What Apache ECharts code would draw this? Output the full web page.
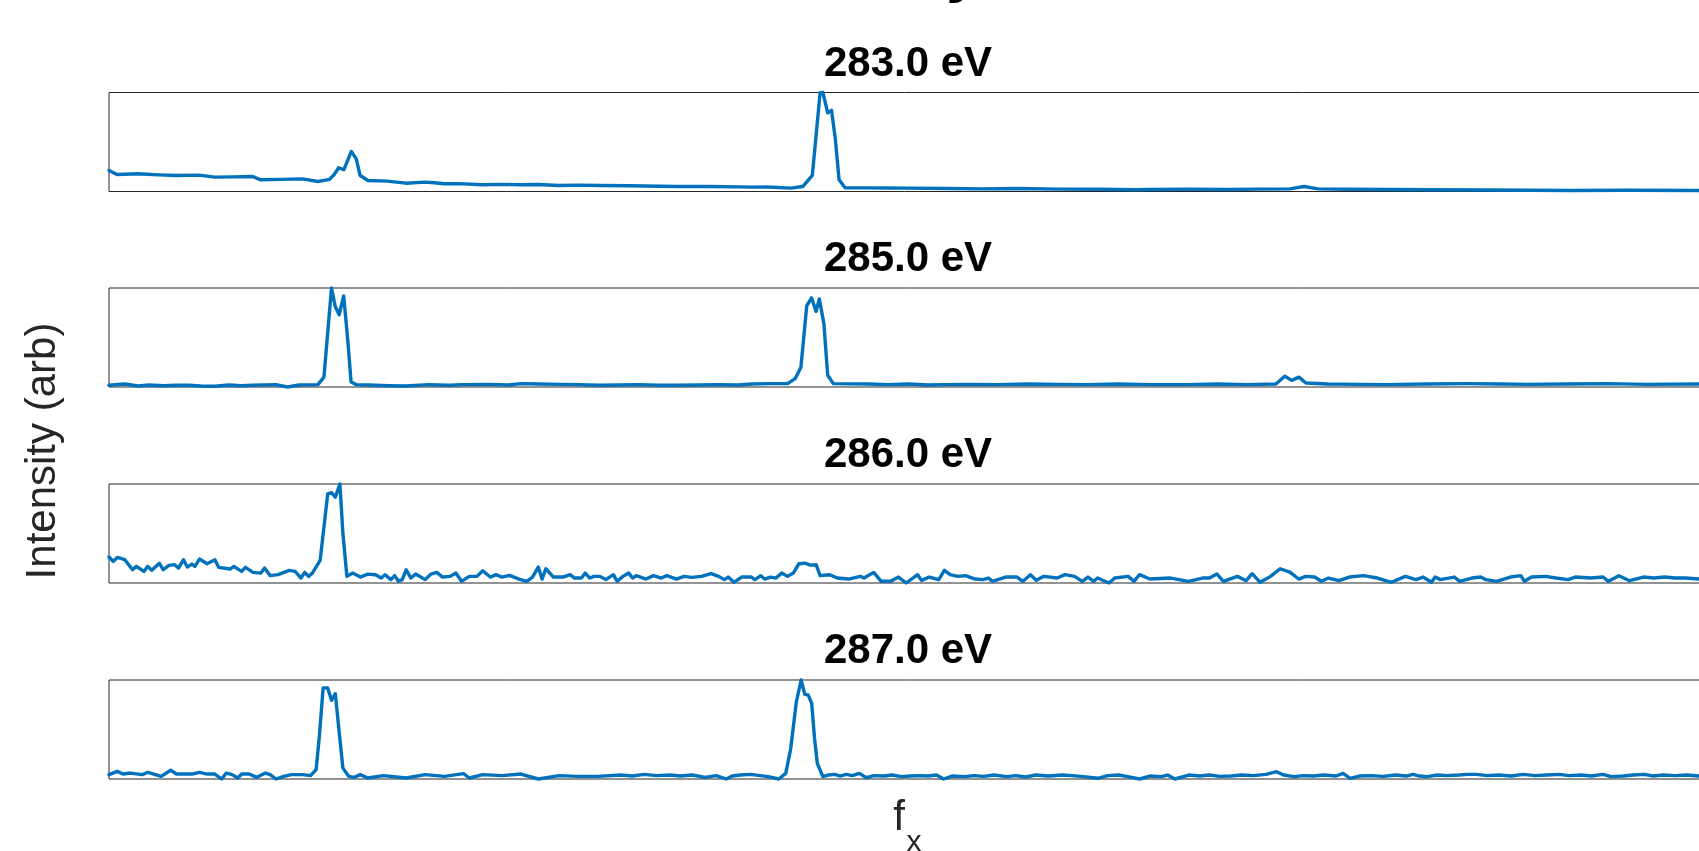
<!DOCTYPE html>
<html><head><meta charset="utf-8">
<script src="https://cdn.jsdelivr.net/npm/echarts@6/dist/echarts.min.js"></script>
<style>html,body{margin:0;padding:0;background:#fff}#c{width:1699px;height:851px}</style>
</head><body><div id="c"></div><script>
// Panel titles (photon energy)
const panelTitles = ['283.0 eV', '285.0 eV', '286.0 eV', '287.0 eV'];
const yAxisLabel = 'Intensity (arb)';
const xAxisLabelMain = 'f';
const xAxisLabelSub = 'x';
const topTitleVisible = 'y';

// f_x sample positions and normalized intensities
const x283 = [0,4,14.5,25,33.8,45,52.9,62,72,75.9,86,96.9,104.6,110.4,112.7,115,117.6,121.3,123.8,125.7,129.7,139.2,148.6,158.1,163,167.6,175,187,196,206.3,215,225.3,235,245.8,260,284,300,315,322.4,330,341.4,347.3,352.1,356,357.4,359.8,361.7,363.6,365.5,368.5,380,390,399,420,437.4,455,475.6,495,514,521.1,540,560,575,591.2,598.3,605.2,620,640,661.3,690,731.4,760,796];
const y283 = [0.213,0.172,0.179,0.168,0.162,0.165,0.145,0.148,0.152,0.118,0.122,0.128,0.101,0.122,0.17,0.24,0.22,0.405,0.33,0.162,0.111,0.105,0.084,0.095,0.088,0.078,0.08,0.068,0.072,0.068,0.07,0.061,0.064,0.061,0.058,0.05,0.05,0.047,0.044,0.045,0.034,0.05,0.162,0.997,1.0,0.794,0.82,0.534,0.118,0.037,0.037,0.036,0.034,0.03,0.027,0.03,0.024,0.022,0.017,0.02,0.022,0.02,0.024,0.027,0.05,0.027,0.022,0.02,0.017,0.015,0.01,0.012,0.01];

const x285 = [0,8,14.7,20,27,33.8,40,46,53,60,66,72,83.6,89.4,95.1,104.6,107.6,111.4,113.3,115.2,117.5,119.6,121.2,123.8,130,140,148.6,160,170,177.5,190,200,206.3,215,225.3,235,245.8,255,265,275,284,295,305,315,322,330.1,339.7,343.5,346.4,349.3,351.7,354,355.6,357.9,359.8,362.6,380,390,400,410,418.2,430,445,460,475.6,490,505,521.1,540,555,570,584.2,588.6,592.1,595.7,599.2,610,626.3,640,660,680,696.4,710,730,750,770,796];
const y285 = [0.017,0.03,0.01,0.02,0.013,0.017,0.017,0.01,0.007,0.02,0.013,0.017,0.024,0.0,0.02,0.024,0.10,1.0,0.81,0.73,0.92,0.455,0.05,0.024,0.02,0.013,0.01,0.024,0.017,0.024,0.027,0.02,0.034,0.03,0.027,0.024,0.017,0.02,0.024,0.017,0.017,0.02,0.024,0.02,0.03,0.034,0.034,0.084,0.20,0.82,0.90,0.764,0.89,0.64,0.118,0.034,0.03,0.024,0.03,0.02,0.024,0.027,0.024,0.03,0.027,0.024,0.03,0.024,0.024,0.03,0.024,0.03,0.108,0.067,0.10,0.04,0.03,0.027,0.024,0.03,0.034,0.03,0.027,0.03,0.034,0.027,0.03];

const x286 = [0,2.2,4.1,7.9,11.8,13.7,17.5,19.4,21.4,25.2,27.1,30,32.8,34.8,37.3,39.2,41.5,43,45.3,49.1,53,54.9,60.6,62.5,66.4,68.3,72.1,76,77.9,80.7,84.6,90.3,93.2,96.1,98,99.9,101.8,105.7,109.5,111.4,113.3,115.6,117.1,119.1,122,125.8,129.6,133.4,136.3,138.2,141.1,143,144.9,146.8,148.8,151.1,153.5,158.3,161.2,164.1,167,170.8,173.7,176.5,180.4,184.2,187.1,190.9,193.8,196.7,200.5,205.3,209.1,212,214.9,216.8,218.7,222.5,227.3,230.8,233.1,236.5,238.4,240.7,242.7,
  245.8,248.7,252.5,254.4,257.3,260.2,262.1,264,268.8,272.6,276.5,279.3,284.1,287.9,291.8,296.6,301.4,305.2,308.1,310,312.9,316.7,321.5,323.4,326.3,328.2,331.1,333.9,336.8,339.7,342.6,345.4,348.3,351.2,354,356,360.8,364.6,370.3,376.1,378,382.8,386.6,391.4,395.2,399.1,404.8,406.7,410.6,415.4,418.2,421.1,424.9,428.8,433.6,437.4,440.3,442.2,448.9,454.6,457.5,461.3,464.2,468,474.7,478.6,483.4,487.2,490.1,493,494.9,500.6,503.5,510.2,513.1,515.9,
  521.1,531.6,540.4,547.4,550.9,554.7,557.9,564.9,569.3,572.3,576.3,581.5,586.3,591.2,595.6,599.1,603.5,607,610.5,615.7,621,628,635,642,649,654.3,657.8,662.1,663.9,666.5,673.5,676.2,682.3,686.7,689.3,694.6,701.6,706.8,708.6,712.1,719.1,724.4,730.5,734,741.9,748,750.6,755.9,761.2,768.2,773.4,778.7,783.9,789.2,795.9];
const y286 = [0.262,0.218,0.258,0.235,0.134,0.168,0.117,0.168,0.128,0.20,0.134,0.178,0.185,0.151,0.235,0.161,0.191,0.168,0.242,0.195,0.235,0.158,0.141,0.168,0.117,0.158,0.107,0.10,0.151,0.074,0.084,0.128,0.117,0.05,0.107,0.067,0.10,0.228,0.90,0.913,0.866,1.0,0.50,0.067,0.10,0.06,0.09,0.084,0.05,0.084,0.034,0.074,0.017,0.034,0.134,0.05,0.09,0.034,0.09,0.107,0.06,0.067,0.10,0.017,0.067,0.067,0.124,0.06,0.084,0.06,0.077,0.04,0.017,0.06,0.161,0.04,0.144,0.06,0.06,0.084,0.05,0.05,0.10,0.05,0.067,
  0.067,0.034,0.084,0.017,0.067,0.10,0.05,0.074,0.04,0.074,0.05,0.074,0.04,0.067,0.057,0.067,0.094,0.067,0.034,0.06,0.007,0.06,0.06,0.034,0.074,0.04,0.06,0.05,0.10,0.067,0.10,0.195,0.20,0.181,0.185,0.074,0.084,0.05,0.04,0.067,0.05,0.107,0.017,0.017,0.06,0.0,0.084,0.027,0.06,0.034,0.128,0.084,0.067,0.074,0.04,0.034,0.05,0.017,0.06,0.06,0.017,0.084,0.027,0.067,0.05,0.084,0.067,0.017,0.06,0.017,0.05,0.0,0.05,0.067,0.017,0.084,
  0.04,0.05,0.017,0.05,0.05,0.09,0.017,0.067,0.023,0.094,0.007,0.067,0.144,0.11,0.04,0.067,0.06,0.017,0.05,0.023,0.06,0.074,0.05,0.007,0.067,0.034,0.06,0.007,0.06,0.034,0.06,0.017,0.05,0.06,0.034,0.017,0.06,0.074,0.017,0.06,0.067,0.05,0.034,0.06,0.05,0.06,0.017,0.074,0.023,0.06,0.05,0.06,0.05,0.05,0.04];

const x287 = [0,4.1,7,10.8,16.6,19.4,23.3,26.1,30.9,33.8,41.5,45.3,49.1,53,56.4,58.7,61.6,64.5,66.4,70.2,74,78.3,80.7,83.6,87.5,91.3,97,100.9,103.7,105.3,107.2,109.5,111.4,113.3,115.2,117.1,120,122.9,125.8,129.6,137.3,148.8,158.3,167.9,177.5,180.4,187.1,196.7,206.2,214.9,225.4,235,244.6,
  256.3,262,268,274,280.9,286,292,298.4,304,309,312,316,321,326,330,335.3,338.8,341.3,344.1,346.5,348.3,350,351.8,353.2,354.6,357.4,360,363.4,366,369,372.1,375.6,379.2,383,388,392,396.7,401,406,410,414.3,417.8,422,428.3,433,438,443,449.3,454,459,464,470,477.4,482,488,495,500,505.5,510,516,521,526.6,530,533.6,540.6,546,551,556,561.6,567,573,579.2,584.5,588,593.2,598,603,608,614.3,617.8,621.3,626,632,638,644,649.4,652.9,656,659.9,665,670,676,680,684.5,690,696,702,708,714,720,726,731,737.1,742,748,752,758.2,763,768.7,773,778,784,790,796];
const y287 = [0.044,0.077,0.05,0.06,0.044,0.067,0.044,0.027,0.088,0.05,0.05,0.067,0.05,0.05,0.0,0.06,0.044,0.01,0.05,0.05,0.017,0.06,0.044,0.0,0.027,0.044,0.044,0.034,0.094,0.43,0.92,0.92,0.795,0.862,0.48,0.11,0.027,0.017,0.044,0.01,0.034,0.01,0.044,0.027,0.054,0.01,0.044,0.034,0.05,0.0,0.034,0.027,0.027,
  0.04,0.03,0.047,0.034,0.04,0.03,0.04,0.017,0.034,0.0,0.03,0.04,0.047,0.034,0.024,0.0,0.057,0.31,0.78,1.0,0.855,0.85,0.764,0.41,0.158,0.024,0.04,0.047,0.03,0.047,0.034,0.057,0.013,0.034,0.03,0.04,0.024,0.03,0.034,0.03,0.04,0.0,0.03,0.024,0.034,0.027,0.04,0.024,0.034,0.02,0.04,0.03,0.04,0.034,0.024,0.007,0.034,0.04,0.024,0.0,0.03,0.024,0.04,0.0,0.04,0.03,0.04,0.027,0.03,0.04,0.034,0.047,0.074,0.04,0.024,0.034,0.03,0.04,0.03,0.057,0.007,0.03,0.034,0.027,0.04,0.03,0.047,0.03,0.024,0.04,0.034,0.04,0.047,0.047,0.034,0.04,0.03,0.047,0.034,0.04,0.047,0.034,0.04,0.03,0.047,0.024,0.03,0.04,0.047,0.03,0.04,0.034,0.04,0.03];

const panels = [
  { title: panelTitles[0], x: x283, y: y283 },
  { title: panelTitles[1], x: x285, y: y285 },
  { title: panelTitles[2], x: x286, y: y286 },
  { title: panelTitles[3], x: x287, y: y287 }
];

const FONT = '"Liberation Sans", Arial, Helvetica, sans-serif';
const gridLeft = 109, gridWidth = 1598, gridHeight = 99;
const gridTops = [92.5, 288, 484, 680];
const lineColor = '#0072BD';

const chart = echarts.init(document.getElementById('c'), null, { renderer: 'canvas' });

const graphics = [];
panels.forEach((p, i) => {
  graphics.push({
    type: 'text', x: gridLeft + gridWidth / 2, y: gridTops[i] - 28.5, z: 10,
    style: { text: p.title, font: 'bold 42px ' + FONT, fill: '#000',
      align: 'center', verticalAlign: 'middle', textAlign: 'center', textVerticalAlign: 'middle' }
  });
});
graphics.push({
  type: 'text', x: 43, y: 451, rotation: Math.PI / 2, z: 10,
  style: { text: yAxisLabel, font: '42px ' + FONT, fill: '#262626',
    align: 'center', verticalAlign: 'middle', textAlign: 'center', textVerticalAlign: 'middle' }
});
graphics.push({
  type: 'text', x: 899, y: 818, z: 10,
  style: { text: xAxisLabelMain, font: '42px ' + FONT, fill: '#262626',
    align: 'center', verticalAlign: 'middle', textAlign: 'center', textVerticalAlign: 'middle' }
});
graphics.push({
  type: 'text', x: 914, y: 843, z: 10,
  style: { text: xAxisLabelSub, font: '30px ' + FONT, fill: '#262626',
    align: 'center', verticalAlign: 'middle', textAlign: 'center', textVerticalAlign: 'middle' }
});
graphics.push({
  type: 'text', x: 963, y: -26, z: 10,
  style: { text: topTitleVisible, font: 'bold 60px ' + FONT, fill: '#000',
    align: 'center', verticalAlign: 'middle', textAlign: 'center', textVerticalAlign: 'middle' }
});

const option = {
  animation: false,
  backgroundColor: '#fff',
  grid: gridTops.map(t => ({
    left: gridLeft, top: t, width: gridWidth, height: gridHeight,
    outerBoundsMode: 'none', containLabel: false,
    show: true, borderColor: '#262626', borderWidth: 1, backgroundColor: 'transparent'
  })),
  xAxis: gridTops.map((t, i) => ({
    type: 'value', gridIndex: i, min: 0, max: 800, show: false
  })),
  yAxis: gridTops.map((t, i) => ({
    type: 'value', gridIndex: i, min: 0, max: 1, show: false
  })),
  series: panels.map((p, i) => ({
    type: 'line', xAxisIndex: i, yAxisIndex: i,
    data: p.x.map((v, j) => [v, p.y[j]]).sort((a, b) => a[0] - b[0]),
    symbol: 'none', showSymbol: false, clip: false, smooth: false,
    lineStyle: { color: lineColor, width: 3.4, join: 'round', cap: 'round' },
    itemStyle: { color: lineColor },
    emphasis: { disabled: true }
  })),
  graphic: graphics
};
chart.setOption(option);
</script></body></html>
